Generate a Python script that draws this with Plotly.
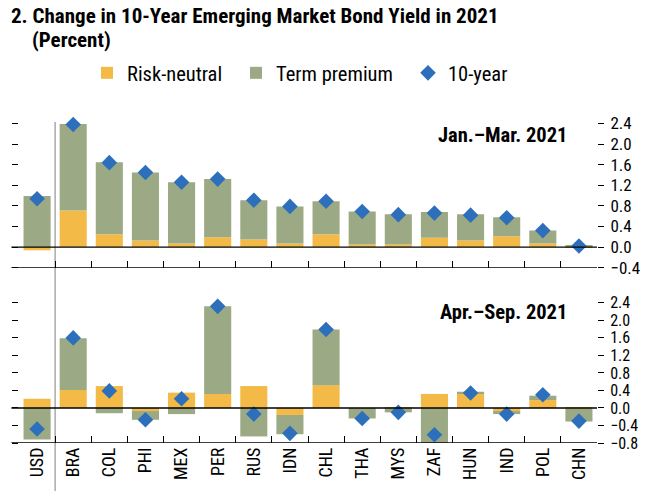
import plotly.graph_objects as go

categories = ["USD", "BRA", "COL", "PHI", "MEX", "PER", "RUS", "IDN", "CHL",
              "THA", "MYS", "ZAF", "HUN", "IND", "POL", "CHN"]

# Jan.-Mar. 2021
q1_risk_neutral = [-0.06, 0.71, 0.25, 0.13, 0.07, 0.19, 0.15, 0.07, 0.25,
                   0.05, 0.05, 0.18, 0.13, 0.21, 0.07, 0.01]
q1_term_premium = [0.99, 1.68, 1.40, 1.32, 1.19, 1.13, 0.76, 0.72, 0.64,
                   0.64, 0.59, 0.50, 0.51, 0.37, 0.25, 0.03]
q1_ten_year = [0.94, 2.38, 1.64, 1.45, 1.26, 1.32, 0.91, 0.79, 0.89,
               0.69, 0.63, 0.66, 0.62, 0.57, 0.32, 0.02]

# Apr.-Sep. 2021
q2_risk_neutral = [0.21, 0.41, 0.50, -0.07, 0.35, 0.32, 0.50, -0.16, 0.52,
                   0.00, -0.01, 0.32, 0.33, -0.07, 0.18, -0.02]
q2_term_premium = [-0.72, 1.18, -0.12, -0.20, -0.14, 2.00, -0.65, -0.44, 1.27,
                   -0.24, -0.09, -0.93, 0.04, -0.07, 0.10, -0.29]
q2_ten_year = [-0.48, 1.60, 0.39, -0.27, 0.21, 2.32, -0.14, -0.58, 1.79,
               -0.24, -0.10, -0.61, 0.34, -0.14, 0.30, -0.30]

top_ticks = [-0.4, 0.0, 0.4, 0.8, 1.2, 1.6, 2.0, 2.4]
bottom_ticks = [-0.8, -0.4, 0.0, 0.4, 0.8, 1.2, 1.6, 2.0, 2.4]

ORANGE = "#F3BA47"
GREEN = "#9BAA84"
BLUE = "#2E6FBC"
FONT = "Liberation Sans Narrow, Arial Narrow, Roboto Condensed, Liberation Sans, sans-serif"

fig = go.Figure()

for (rn, tp, ty, xa, ya, show) in [
    (q1_risk_neutral, q1_term_premium, q1_ten_year, "x", "y", True),
    (q2_risk_neutral, q2_term_premium, q2_ten_year, "x2", "y2", False),
]:
    fig.add_trace(go.Bar(x=categories, y=rn, name="Risk-neutral", marker_color=ORANGE,
                         marker_line_width=0, xaxis=xa, yaxis=ya, showlegend=show,
                         legend="legend"))
    fig.add_trace(go.Bar(x=categories, y=tp, name="Term premium", marker_color=GREEN,
                         marker_line_width=0, xaxis=xa, yaxis=ya, showlegend=show,
                         legend="legend2"))
    fig.add_trace(go.Scatter(x=categories, y=ty, name="10-year", mode="markers",
                             marker=dict(symbol="diamond", size=12, color=BLUE),
                             xaxis=xa, yaxis=ya, showlegend=show, legend="legend3",
                             cliponaxis=False))

W, H = 660, 491
L, R, T, B = 19, 63, 105, 48
pw = W - L - R
ph = H - T - B


def py(px):
    return (H - B - px) / ph


def pxx(px):
    return (px - L) / pw


top_dom = [py(267.7), 1.0]
bot_dom = [0.0, py(285)]

axis_common = dict(type="category", tickson="boundaries", ticks="inside", ticklen=7,
                   tickcolor="black", tickwidth=1.3, showgrid=False, zeroline=False,
                   showline=False, range=[-0.5, 15.5], fixedrange=True, automargin=False)

yaxis_common = dict(side="right", tickformat=".1f", ticks="outside", ticklen=6,
                    tickcolor="black", tickwidth=1, mirror="ticks", showline=False,
                    showgrid=False, zeroline=False,
                    ticklabelstandoff=3, automargin=False, fixedrange=True)

fig.update_layout(
    width=W, height=H,
    margin=dict(l=L, r=R, t=T, b=B, autoexpand=False),
    paper_bgcolor="white", plot_bgcolor="white",
    barmode="relative", bargap=0.25,
    font=dict(family=FONT, size=18, color="black"),
    xaxis=dict(domain=[0, 1], anchor="y", showticklabels=False, **axis_common),
    xaxis2=dict(domain=[0, 1], anchor="y2", showticklabels=True, tickangle=-90,
                tickfont=dict(size=18), **axis_common),
    yaxis=dict(domain=top_dom, anchor="x", range=[-0.4, -0.4 + (267.7 - T) / 51.5],
               tickvals=top_ticks, tickfont=dict(size=17), **yaxis_common),
    yaxis2=dict(domain=bot_dom, anchor="x2", range=[-0.8, -0.8 + (H - B - 285) / 43.8],
                tickvals=bottom_ticks, tickfont=dict(size=16), **yaxis_common),
    legend=dict(orientation="h", x=pxx(87), y=py(73), xanchor="left", yanchor="middle",
                font=dict(size=20.5), bgcolor="rgba(0,0,0,0)"),
    legend2=dict(orientation="h", x=pxx(236), y=py(73), xanchor="left", yanchor="middle",
                 font=dict(size=20.5), bgcolor="rgba(0,0,0,0)"),
    legend3=dict(orientation="h", x=pxx(408), y=py(73), xanchor="left", yanchor="middle",
                 font=dict(size=20.5), bgcolor="rgba(0,0,0,0)"),
)

ext = -7.6 / pw
shapes = []
for yref, yv in [("y", 0.0), ("y", -0.4), ("y2", 0.0), ("y2", -0.8)]:
    shapes.append(dict(type="line", xref="x domain" if yref == "y" else "x2 domain",
                       yref=yref, x0=ext, x1=1.0, y0=yv, y1=yv,
                       line=dict(color="black", width=1.4)))
shapes.append(dict(type="line", xref="x", yref="paper", x0=0.5, x1=0.5,
                   y0=py(491), y1=py(122), line=dict(color="#AAAAAA", width=1.5),
                   layer="below"))
fig.update_layout(shapes=shapes)

fig.add_annotation(text="<b>2. Change in 10-Year Emerging Market Bond Yield in 2021</b>",
                   xref="paper", yref="paper", x=pxx(9), y=py(16), xanchor="left",
                   yanchor="middle", showarrow=False, font=dict(size=21))
fig.add_annotation(text="<b>(Percent)</b>",
                   xref="paper", yref="paper", x=pxx(30), y=py(40), xanchor="left",
                   yanchor="middle", showarrow=False, font=dict(size=21))
fig.add_annotation(text="<b>Jan.–Mar. 2021</b>", xref="paper", yref="paper",
                   x=pxx(569), y=py(135), xanchor="right", yanchor="middle",
                   showarrow=False, font=dict(size=20.5))
fig.add_annotation(text="<b>Apr.–Sep. 2021</b>", xref="paper", yref="paper",
                   x=pxx(569), y=py(312), xanchor="right", yanchor="middle",
                   showarrow=False, font=dict(size=20.5))

fig.write_html("out.html", config={"displayModeBar": False},
               post_script="document.body.style.margin='0px';document.body.style.overflow='hidden';")
